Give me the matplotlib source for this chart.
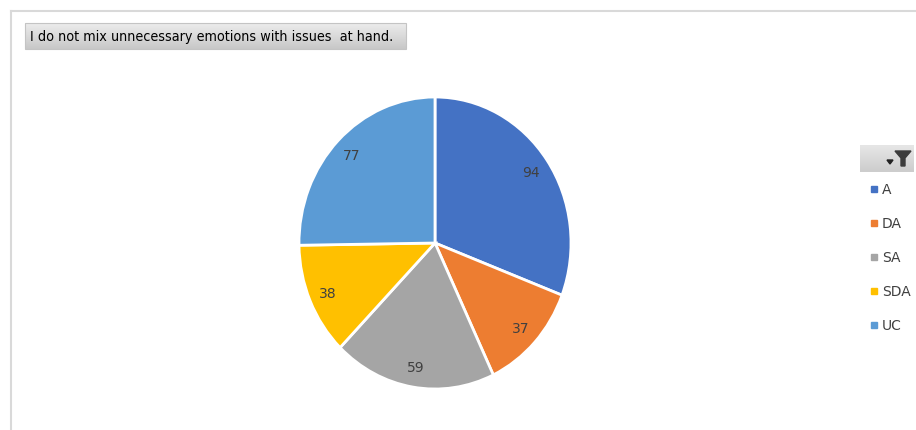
import matplotlib.pyplot as plt
from matplotlib.patches import Rectangle, Polygon
from matplotlib.colors import LinearSegmentedColormap
import numpy as np

title = "I do not mix unnecessary emotions with issues  at hand."
categories = ["A", "DA", "SA", "SDA", "UC"]
counts = [94, 37, 59, 38, 77]
colors = ["#4472C4", "#ED7D31", "#A5A5A5", "#FFC000", "#5B9BD5"]

W, H = 916, 431
fig = plt.figure(figsize=(W / 100, H / 100), dpi=100)
fig.patch.set_facecolor("white")

# overlay axes in pixel coordinates for the frame, title box and legend
bg = fig.add_axes([0, 0, 1, 1])
bg.set_xlim(0, W)
bg.set_ylim(H, 0)
bg.axis("off")

# chart frame (top and left edges visible)
bg.plot([11, W], [12, 12], color="#d9d9d9", lw=1.5)
bg.plot([11, 11], [12, H], color="#d9d9d9", lw=1.5)

# title button with a soft vertical gradient
grad = np.linspace(0, 1, 30).reshape(-1, 1)
bg.imshow(grad, extent=[25, 406, 50, 24],
          cmap=LinearSegmentedColormap.from_list("btn", ["#ececec", "#c8c8c8"]),
          aspect="auto", zorder=1)
bg.add_patch(Rectangle((25, 24), 381, 26, fill=False, ec="#c4c4c4", lw=0.8, zorder=2))
bg.text(30, 37.5, title, fontsize=10.3, family="DejaVu Sans", fontstretch="condensed",
        color="#000000", va="center", ha="left", zorder=3)

# filter button above the legend
bg.imshow(grad, extent=[860, 914, 173, 146],
          cmap=LinearSegmentedColormap.from_list("btn2", ["#e6e6e6", "#cdcdcd"]),
          aspect="auto", zorder=1)
bg.add_patch(Polygon([[887, 161], [893, 161], [890, 165]], closed=True, color="#222222", zorder=3))
bg.add_patch(Polygon([[895, 152], [911, 152], [905, 159], [905, 167], [901, 167], [901, 159]],
                     closed=True, color="#3c3c3c", zorder=3))

# legend entries
for i, (cat, col) in enumerate(zip(categories, colors)):
    y = 190 + i * 34
    bg.add_patch(Rectangle((871, y - 3), 5.5, 5.5, color=col, zorder=3))
    bg.text(882, y, cat, fontsize=10, color="#404040", va="center", ha="left")

# pie axes
cx, cy, rx, ry = 435, 244, 136, 146
ax = fig.add_axes([(cx - rx) / W, (H - cy - ry) / H, 2 * rx / W, 2 * ry / H])
ax.pie(counts, colors=colors, startangle=90, counterclock=False,
       labels=[str(c) for c in counts], labeldistance=0.86,
       wedgeprops=dict(edgecolor="white", linewidth=2),
       textprops=dict(fontsize=10, color="#404040", ha="center", va="center"))
ax.set_aspect("auto")
ax.set_xlim(-1.0, 1.0)
ax.set_ylim(-1.0, 1.0)
ax.axis("off")

fig.savefig("out.png", dpi=100, facecolor="white")
